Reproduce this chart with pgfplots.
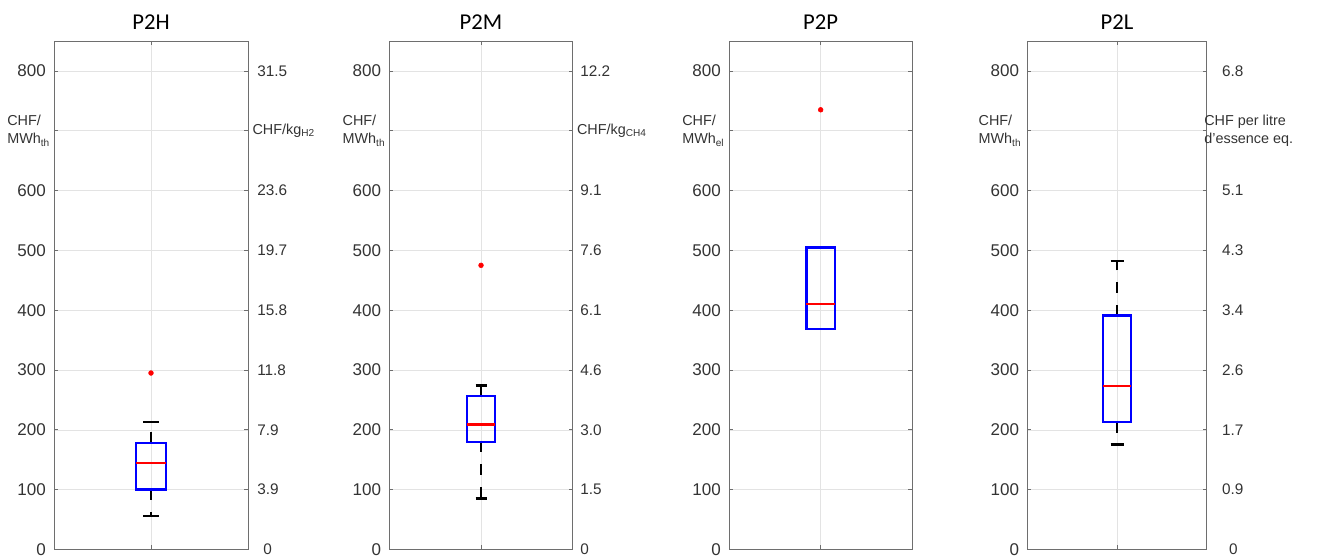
\documentclass[border=0pt]{standalone}
\usepackage{fontspec}
\setmainfont{Liberation Sans}
\newfontfamily\titlefont{Carlito}
\usepackage{pgfplots}
\pgfplotsset{compat=1.18}
\usepgfplotslibrary{statistics}

\definecolor{axgray}{RGB}{110,110,110}
\definecolor{gridgray}{RGB}{227,227,227}
\definecolor{labgray}{RGB}{51,51,51}

% whiskers: dashed line from box, solid cap
\pgfplotsset{
  boxplot/draw/whisker/.code 2 args={
    \draw[black, line width=1.8pt, dash pattern=on 8pt off 9pt]
      (boxplot cs:#1) -- (boxplot cs:#2);
    \draw[black, line width=2pt]
      (boxplot whisker cs:#2,0) -- (boxplot whisker cs:#2,1);
  },
}

\tikzset{
  unitlab/.style={anchor=west, align=left, inner sep=0pt, text=labgray,
    font=\fontsize{10.8}{13.5}\selectfont},
}

\pgfplotsset{
  panel/.style={
    scale only axis, height=381.375pt,
    ymin=0, ymax=850, xmin=0, xmax=2,
    xtick={1}, xticklabels={},
    ytick={0,100,...,800},
    yticklabels={0,100,200,300,400,500,600,{},800},
    grid=major, grid style={gridgray, line width=0.5pt},
    axis line style={axgray, line width=0.6pt},
    tick style={axgray, line width=0.6pt},
    major tick length=3pt, tick align=inside,
    clip=false,
    yticklabel style={anchor=east, inner sep=0pt, xshift=-6pt,
      font=\fontsize{12.75}{15}\selectfont, text=labgray},
    every axis title shift=0pt,
    title style={font=\titlefont\fontsize{17}{20}\selectfont,
      at={(0.5,1)}, anchor=base, yshift=8.8pt},
    boxplot/draw direction=y,
    boxplot/box extend=0.31,
    boxplot/every box/.style={draw=blue, line width=1.8pt},
    boxplot/every median/.style={draw=red, line width=1.6pt},
  },
  rightlabels/.style={
    scale only axis, height=381.375pt,
    ymin=0, ymax=850, xmin=0, xmax=2,
    hide x axis, axis y line*=right,
    y axis line style={draw=none}, ytick style={draw=none},
    ytick={0,100,...,800},
    yticklabel style={anchor=west, inner sep=0pt,
      font=\fontsize{11.5}{14}\selectfont, text=labgray},
  },
  outl/.style={mark=*, red, mark size=1.8pt},
}

\begin{document}
\begin{tikzpicture}

% P2H
\begin{axis}[panel, at={(40.5pt,4.875pt)}, anchor=south west, width=145.5pt, title={P2H}]
\addplot[outl, boxplot prepared={lower whisker=56, lower quartile=100, median=144,
  upper quartile=178, upper whisker=213, draw position=1, whisker extend=0.155}]
  table[row sep=\\, y index=0] {data\\ 295\\};
\node[unitlab] at ([xshift=-35.25pt]axis cs:0,700) {CHF/\\MWh\textsubscript{th}};
\node[unitlab] at ([xshift=3.2pt]axis cs:2,700) {CHF/kg\textsubscript{H2}};
\end{axis}
\begin{axis}[rightlabels, at={(40.5pt,4.875pt)}, anchor=south west, width=145.5pt,
  yticklabels={\hspace{4.5pt}0,3.9,7.9,11.8,15.8,19.7,23.6,{},31.5},
  yticklabel style={xshift=6.75pt}]
\end{axis}

% P2M
\begin{axis}[panel, at={(292pt,4.875pt)}, anchor=south west, width=137.55pt, title={P2M}]
\addplot[outl, boxplot prepared={lower whisker=85, lower quartile=180, median=209,
  upper quartile=257, upper whisker=274, draw position=1, whisker extend=0.12}]
  table[row sep=\\, y index=0] {data\\ 475\\};
\node[unitlab] at ([xshift=-35.25pt]axis cs:0,700) {CHF/\\MWh\textsubscript{th}};
\node[unitlab] at ([xshift=3pt]axis cs:2,700) {CHF/kg\textsubscript{CH4}};
\end{axis}
\begin{axis}[rightlabels, at={(292pt,4.875pt)}, anchor=south west, width=137.55pt,
  yticklabels={0,1.5,3.0,4.6,6.1,7.6,9.1,{},12.2},
  yticklabel style={xshift=5.5pt}]
\end{axis}

% P2P
\begin{axis}[panel, at={(546.75pt,4.875pt)}, anchor=south west, width=137.5pt, title={P2P}]
\addplot[outl, boxplot/draw/whisker/.code 2 args={},
  boxplot prepared={lower whisker=369, lower quartile=369, median=410,
  upper quartile=505, upper whisker=505, draw position=1}]
  table[row sep=\\, y index=0] {data\\ 735\\};
\node[unitlab] at ([xshift=-35.25pt]axis cs:0,700) {CHF/\\MWh\textsubscript{el}};
\end{axis}

% P2L
\begin{axis}[panel, at={(770.5pt,4.875pt)}, anchor=south west, width=134.55pt, title={P2L}]
\addplot[outl, boxplot prepared={lower whisker=175, lower quartile=213, median=274,
  upper quartile=391, upper whisker=482, draw position=1, whisker extend=0.145}]
  coordinates {};
\node[unitlab] at ([xshift=-36.75pt]axis cs:0,700) {CHF/\\MWh\textsubscript{th}};
\node[unitlab] at ([xshift=-2pt]axis cs:2,700) {CHF per litre\\d’essence eq.};
\end{axis}
\begin{axis}[rightlabels, at={(770.5pt,4.875pt)}, anchor=south west, width=134.55pt,
  yticklabels={\hspace{5.25pt}0,0.9,1.7,2.6,3.4,4.3,5.1,{},6.8},
  yticklabel style={xshift=11.25pt}]
\end{axis}

\pgfresetboundingbox
\path[use as bounding box] (0,0) rectangle (987.75pt,417pt);
\end{tikzpicture}
\end{document}
